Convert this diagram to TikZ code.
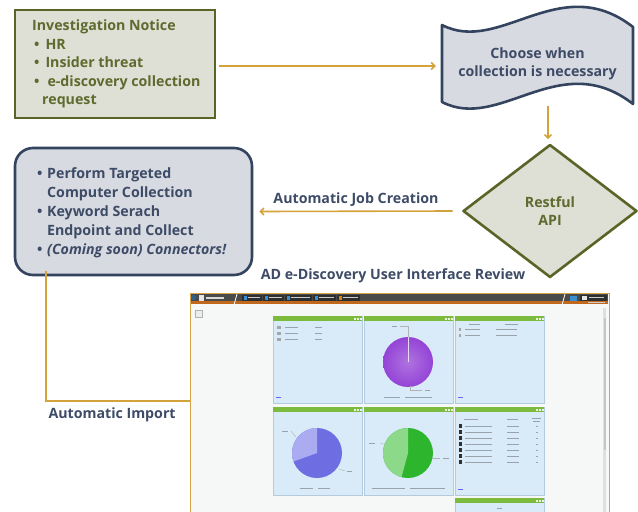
\documentclass[tikz,border=0pt]{standalone}
\usepackage{fontspec}
\setmainfont{Open Sans}
\usetikzlibrary{shapes.geometric,arrows.meta,calc}
\definecolor{olive}{HTML}{5B6427}
\definecolor{olivetxt}{HTML}{5E6A2E}
\definecolor{olivefill}{HTML}{DEDFD5}
\definecolor{navy}{HTML}{34445F}
\definecolor{navytxt}{HTML}{3D4B67}
\definecolor{grayfill}{HTML}{D7DAE0}
\definecolor{gold}{HTML}{D4A23A}
\definecolor{uiframe}{HTML}{D9A348}
\definecolor{uibar}{HTML}{4A4A4A}
\definecolor{uistrip}{HTML}{C0691C}
\definecolor{uibg}{HTML}{F6F8F8}
\definecolor{panelfill}{HTML}{D9EBF9}
\definecolor{panelline}{HTML}{B4CBDD}
\definecolor{panelhead}{HTML}{7CBB3D}
\definecolor{pietxt}{HTML}{9AA3AC}
\definecolor{purplepie}{HTML}{9444D6}
\definecolor{bluepie}{HTML}{6E6EE2}
\definecolor{bluelight}{HTML}{ABABF2}
\definecolor{greenpie}{HTML}{2EB52E}
\definecolor{greenlight}{HTML}{8CD98A}
\definecolor{btn}{HTML}{2F2F2F}
\definecolor{btnicon}{HTML}{3A8ED0}
\newcommand\uipanel[4]{%
  \fill[panelline!60] ({#1+1},{#2+1}) rectangle ({#3+1},{#4+1});
  \filldraw[fill=panelfill,draw=panelline,line width=0.5pt] (#1,#2) rectangle (#3,#4);
  \fill[panelhead] (#1,#2) rectangle (#3,{#2+5});
  \foreach \k in {1,2,3} {\fill[white!85!panelhead] ({#3-11.5+3.2*\k},{#2+1.5}) rectangle ({#3-9.5+3.2*\k},{#2+3.5});}
}
\newcommand\bul{\makebox[10pt][l]{\textbullet}}
\begin{document}
\begin{tikzpicture}[x=1pt,y=-1pt,
  every node/.style={font=\fontsize{14.2}{18.6}\selectfont\bfseries},
  olivebox/.style={draw=olive,fill=olivefill,line width=2.6pt,text=olivetxt},
  navybox/.style={draw=navy,fill=grayfill,line width=2.6pt,text=navytxt},
  link/.style={draw=gold,line width=1.6pt},
  arr/.style={link,-{Straight Barb[length=3.5pt,width=7pt]}},
  lbl/.style={text=navytxt},
  txtbar/.style={draw=pietxt,line width=0.8pt}]
\useasboundingbox (0,0) rectangle (638,512);

% --- Investigation notice
\node[olivebox,minimum width=200pt,minimum height=108pt,inner sep=0pt] (notice) at (115,64) {};
\node[text=olivetxt,align=left,inner sep=0pt,anchor=west] (noticetext) at (32,64)
 {Investigation Notice\\
  \hspace*{2pt}\textbullet\hspace{6pt}HR\\
  \hspace*{2pt}\textbullet\hspace{6pt}Insider threat\\
  \hspace*{2pt}\textbullet\hspace{8pt}e-discovery collection\\
  \hspace*{10pt}request};

% --- wave document
\draw[draw=navy,fill=grayfill,line width=2.6pt,line join=round]
  (442,25) .. controls (500,55) and (560,-30) .. (633,27)
  -- (633,104) .. controls (560,47) and (500,132) .. (442,102) -- cycle;
\node[text=navytxt,minimum width=191pt,minimum height=77pt,align=center,inner sep=0pt] (choose) at (537.5,64)
 {Choose when\\collection is necessary};

% --- diamond
\node[olivebox,diamond,minimum width=174pt,minimum height=133pt,inner sep=0pt,align=center,line join=round] (api) at (550,211)
 {Restful\\API};

% --- targeted collection
\node[navybox,rounded corners=18pt,minimum width=237pt,minimum height=127pt,inner sep=0pt] (perform) at (133.5,211.5) {};
\node[text=navytxt,align=left,inner sep=0pt,anchor=west,font=\fontsize{14.2}{19}\selectfont\bfseries] (performtext) at (37,213)
 {\bul Perform Targeted\\
  \hspace*{10pt}Computer Collection\\
  \bul Keyword Serach\\
  \hspace*{10pt}Endpoint and Collect\\
  \bul\itshape (Coming soon) Connectors!};

% --- screenshot frame
\node[draw=uiframe,fill=uibg,line width=1.4pt,minimum width=419pt,minimum height=222pt,inner sep=0pt,anchor=north west] (ui) at (190,293) {};
\node[lbl,anchor=center] (review) at (393,276) {AD e-Discovery User Interface Review};

% top bar
\fill[uibar] (191,294) rectangle (608,301);
\fill[uistrip] (191,301) rectangle (608,304);
\fill[btnicon!70!black] (193.5,297.5) circle (2.6pt);
\fill[white!80!gray] (199,295) rectangle (204,300.5);
\fill[white!70!gray] (206,296.8) rectangle (224,298.5);
\draw[white,line width=0.8pt] (234,305) -- (237,294);
\foreach \a/\b in {242/262,263/284,285/312,313/336,337/360} {
  \fill[btn] (\a,295) rectangle (\b,300.5);
  \fill[btnicon] ({\a+1.5},296) rectangle ({\a+4.5},299.5);
  \fill[white!60!gray] ({\a+6},297.3) rectangle ({\b-2},298.2);
}
\fill[uistrip!80!yellow] (338.5,296) rectangle (341.5,299.5);
\draw[white,line width=0.8pt] (562,305) -- (565,294);
\fill[btnicon] (570,295.5) rectangle (577,300.5);
\fill[btn] (580,295) rectangle (607,300.5);
\fill[white!80!gray] (582,296) rectangle (587,299.5);
\fill[white!60!gray] (589,297.3) rectangle (604,298.2);
\fill[white!60!gray] (588,302) rectangle (605,302.8);

% left icon, scrollbar
\filldraw[fill=white!85!gray,draw=gray!60,line width=0.4pt] (195,310) rectangle (202,317);
\fill[gray!25] (603,308) rectangle (606,512);
\fill[gray!45] (603.5,318) rectangle (605.5,450);

% panels
\uipanel{273}{316}{362}{403}
\uipanel{364}{316}{453}{403}
\uipanel{455}{316}{544}{403}
\uipanel{273}{407}{362}{495}
\uipanel{364}{407}{453}{495}
\uipanel{455}{407}{544}{495}
\uipanel{455}{498}{544}{520}

% panel 1 rows
\foreach \y in {327,333,339} {
  \fill[gray!70] (277,{\y-1.5}) rectangle (281,{\y+1.5});
  \draw[txtbar] (285,\y) -- (298,\y);
  \draw[txtbar] (315,\y) -- (322,\y);
}
\draw[blue!60,line width=0.8pt] (276,397) -- (281,397);
% panel 3 rows
\draw[txtbar] (469,324) -- (480,324);
\draw[txtbar] (505,324) -- (518,324);
\foreach \y in {329.5,335} {
  \fill[gray!70] (459,{\y-1.5}) rectangle (461,{\y+1.5});
  \draw[txtbar] (465,\y) -- (480,\y);
  \draw[txtbar] (496,\y) -- (517,\y);
}
\draw[blue!60,line width=0.8pt] (458,397) -- (463,397);

% purple pie
\shade[inner color=purplepie!75!white,outer color=purplepie] (408,362) circle (25pt);
\draw[white!80!purplepie,line width=0.6pt] (408,362) -- (408,337);
\draw[gray!60,line width=0.4pt] (408,337) -- (408,326) -- (400,326);
\draw[txtbar] (392,326) -- (397,326);
\draw[gray!60,line width=0.4pt] (410,386) -- (410,390) -- (422,390);
\draw[txtbar] (425,390) -- (430,390);
\draw[txtbar] (384,397) -- (400,397);
\draw[txtbar] (405,397) -- (432,397);

% blue pie
\fill[bluepie] (317,453) circle (25pt);
\fill[bluelight] (317,453) -- (317,428) arc[start angle=90,end angle=200,radius=25pt] -- cycle;
\draw[gray!60,line width=0.4pt] (296,437) -- (291,431);
\draw[txtbar] (282,431) -- (288,431);
\draw[gray!60,line width=0.4pt] (339,469) -- (345,471);
\draw[txtbar] (347,471) -- (352,471);
\draw[txtbar] (300,488) -- (313,488);
\draw[txtbar] (318,488) -- (330,488);

% green pie
\fill[greenpie] (408,453) circle (25pt);
\fill[greenlight] (408,453) -- (408,428) arc[start angle=90,end angle=255,radius=25pt] -- cycle;
\draw[gray!60,line width=0.4pt] (387,445) -- (380,443);
\draw[txtbar] (369,443) -- (375,443);
\draw[gray!60,line width=0.4pt] (433,458) -- (440,458);
\draw[txtbar] (443,458) -- (449,458);
\draw[txtbar] (372,488) -- (405,488);
\draw[txtbar] (410,488) -- (445,488);

% panel 6 table
\draw[txtbar] (464,419) -- (478,419);
\draw[txtbar] (507,419) -- (518,419);
\draw[txtbar] (532,418) -- (541,418);
\draw[txtbar] (533,421) -- (540,421);
\foreach \y in {426,432,438,444,450,456,462} {
  \fill[btn] (459,{\y-1.8}) rectangle (462,{\y+1.8});
  \draw[txtbar] (465,\y) -- (492,\y);
  \draw[txtbar] (507,\y) -- (519,\y);
  \draw[txtbar] (536,\y) -- (538,\y);
}
\draw[blue!60,line width=0.8pt] (458,489) -- (463,489);
\draw[txtbar] (497,508) -- (502,508);

% --- connectors
\draw[arr] (notice.east) ++(3,2) -- ([xshift=-6pt,yshift=-2pt]choose.west);
\draw[arr] (api.north |- choose.south) ++(-2,3) -- ([xshift=-2pt,yshift=4pt]api.north);
\draw[arr] ([xshift=-9pt]api.west) -- node[lbl,above=1pt] (jobl) {Automatic Job Creation} ([xshift=6pt]perform.east);
\draw[link] ($(perform.south west)+(32,-5)$) |- ([yshift=4pt]ui.west);
\node[lbl,anchor=west] (importl) at (45,415) {Automatic Import};
\end{tikzpicture}
\end{document}
